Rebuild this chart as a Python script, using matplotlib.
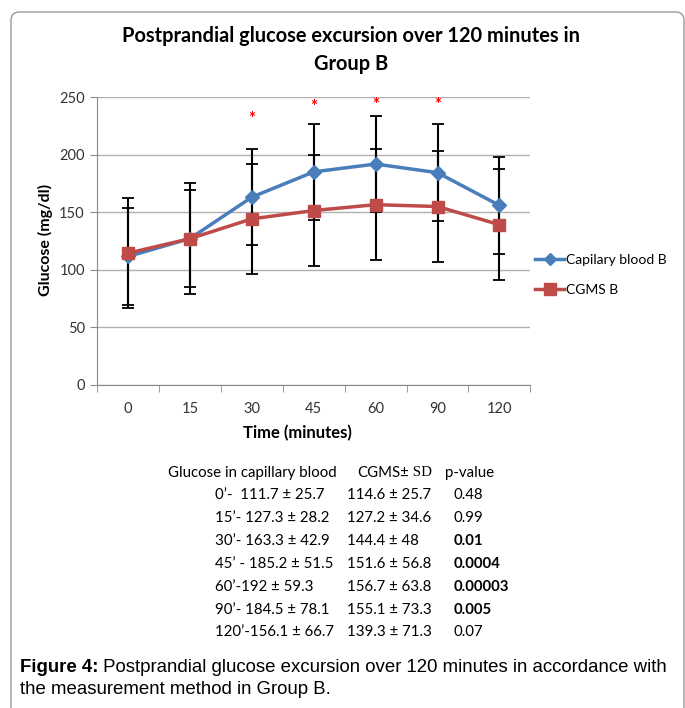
import matplotlib
matplotlib.use("Agg")
import matplotlib.pyplot as plt
from matplotlib.lines import Line2D
from matplotlib.patches import FancyBboxPatch

# postprandial glucose, group B: capillary blood vs CGMS

TIMES = ["0", "15", "30", "45", "60", "90", "120"]
CAPILLARY = [111.7, 127.3, 163.3, 185.2, 192.0, 184.5, 156.1]
CGMS = [114.6, 127.2, 144.4, 151.6, 156.7, 155.1, 139.3]
CAPILLARY_ERR = [42, 42, 42, 42, 42, 42, 42]
CGMS_ERR = [48, 48, 48, 48, 48, 48, 48]
STAR_IDX = [2, 3, 4, 5]
STAR_Y = [231, 242, 243, 243]

TABLE_HEAD = ["Glucose in capillary blood", "CGMS\u00b1", "p-value"]
TABLE_CAP = ["0\u2019-  111.7 \u00b1 25.7", "15\u2019- 127.3 \u00b1 28.2",
             "30\u2019- 163.3 \u00b1 42.9", "45\u2019 - 185.2 \u00b1 51.5",
             "60\u2019-192 \u00b1 59.3", "90\u2019- 184.5 \u00b1 78.1",
             "120\u2019-156.1 \u00b1 66.7"]
TABLE_CGMS = ["114.6 \u00b1 25.7", "127.2 \u00b1 34.6", "144.4 \u00b1 48",
              "151.6 \u00b1 56.8", "156.7 \u00b1 63.8", "155.1 \u00b1 73.3",
              "139.3 \u00b1 71.3"]
P_VALUES = ["0.48", "0.99", "0.01", "0.0004", "0.00003", "0.005", "0.07"]
P_BOLD = [False, False, True, True, True, True, False]

W, H = 685, 708
BLUE = "#4A7EBB"
RED = "#BE4B48"
FONT = "Lato"


def fx(x):
    return x / W


def fy(y):
    return 1 - y / H


fig = plt.figure(figsize=(W / 100, H / 100), dpi=100)
plt.rcParams['font.family'] = [FONT, 'DejaVu Sans']

# frame round the chart
box = FancyBboxPatch((fx(11), fy(760)), fx(673), (760 - 12) / H,
                     boxstyle="round,pad=0,rounding_size=0.012",
                     transform=fig.transFigure, fill=False,
                     edgecolor="#9a9a9a", linewidth=1.0, clip_on=False)
fig.add_artist(box)

ax = fig.add_axes([fx(97.3), fy(385), fx(530.3 - 97.3), (385 - 97.3) / H])
xs = list(range(len(TIMES)))

ax.errorbar(xs, CAPILLARY, yerr=CAPILLARY_ERR, fmt='none', ecolor='black',
            elinewidth=1.5, capsize=4, capthick=1.3, zorder=2)
ax.errorbar(xs, CGMS, yerr=CGMS_ERR, fmt='none', ecolor='black',
            elinewidth=1.5, capsize=4, capthick=1.3, zorder=2)
ax.plot(xs, CAPILLARY, color=BLUE, lw=2.5, marker='D', ms=7, zorder=3)
ax.plot(xs, CGMS, color=RED, lw=2.5, marker='s', ms=9, zorder=3)

for i, y in zip(STAR_IDX, STAR_Y):
    ax.text(i, y, "*", color="red", ha='center', va='center', fontsize=12,
            fontweight='bold')

ax.set_xlim(-0.5, len(TIMES) - 0.5)
ax.set_ylim(0, 250)
ax.set_yticks(range(0, 251, 50))
ax.set_xticks(xs)
ax.set_xticklabels(TIMES)
ax.set_xticks([i - 0.5 for i in range(len(TIMES) + 1)], minor=True)
ax.tick_params(axis='x', which='major', length=0, pad=12, labelsize=10.5,
               labelcolor='#333333')
ax.tick_params(axis='x', which='minor', length=5, color='#8a8a8a')
ax.tick_params(axis='y', length=5, color='#8a8a8a', labelsize=10.5,
               labelcolor='#333333', pad=4)
ax.grid(axis='y', color='#b0b0b0', lw=1)
ax.set_axisbelow(True)
for s in ['top', 'right']:
    ax.spines[s].set_visible(False)
for s in ['left', 'bottom']:
    ax.spines[s].set_color('#8a8a8a')

fig.text(fx(297), fy(433), "Time (minutes)", ha='center', va='center',
         fontsize=12, fontweight='bold')
fig.text(fx(45), fy(240), "Glucose (mg/dl)", ha='center', va='center',
         rotation=90, fontsize=11.5, fontweight='bold')
fig.text(fx(351), fy(50), "Postprandial glucose excursion over 120 minutes in\nGroup B",
         ha='center', va='center', fontsize=14.4, fontweight='bold',
         linespacing=1.55)

handles = [Line2D([], [], color=BLUE, lw=2.5, marker='D', ms=6),
           Line2D([], [], color=RED, lw=2.5, marker='s', ms=8)]
fig.legend(handles, ["Capilary blood B", "CGMS B"], loc='center left',
           bbox_to_anchor=(fx(535), fy(275)), frameon=False, fontsize=10,
           handlelength=2.1, handletextpad=0.15, labelspacing=1.3,
           borderpad=0, borderaxespad=0)

# table of values under the chart
ROW_Y0, ROW_DY = 495, 22.9
TFS = 10.8
fig.text(fx(168), fy(473), TABLE_HEAD[0], ha='left', va='center', fontsize=TFS)
t = fig.text(fx(357), fy(473), TABLE_HEAD[1], ha='left', va='center',
             fontsize=TFS)
plt.annotate(" SD", xy=(1, 0.5), xycoords=t, va='center', ha='left',
             fontsize=TFS, family='Liberation Serif')
fig.text(fx(445), fy(473), TABLE_HEAD[2], ha='left', va='center', fontsize=TFS)
for k in range(len(TABLE_CAP)):
    y = fy(ROW_Y0 + k * ROW_DY)
    fig.text(fx(215), y, TABLE_CAP[k], ha='left', va='center', fontsize=TFS)
    fig.text(fx(347), y, TABLE_CGMS[k], ha='left', va='center', fontsize=TFS)
    fig.text(fx(454), y, P_VALUES[k], ha='left', va='center', fontsize=TFS,
             fontweight='bold' if P_BOLD[k] else 'normal')

# caption
CFS = 13.4
cap = fig.text(fx(20), fy(668), "Figure 4:", ha='left', va='center',
               fontsize=CFS, fontweight='bold', family='Liberation Sans')
plt.annotate(" Postprandial glucose excursion over 120 minutes in accordance with",
             xy=(1, 0.5), xycoords=cap, ha='left', va='center', fontsize=CFS,
             family='Liberation Sans')
fig.text(fx(20), fy(690), "the measurement method in Group B.", ha='left',
         va='center', fontsize=CFS, family='Liberation Sans')

fig.savefig("out.png", dpi=100)
